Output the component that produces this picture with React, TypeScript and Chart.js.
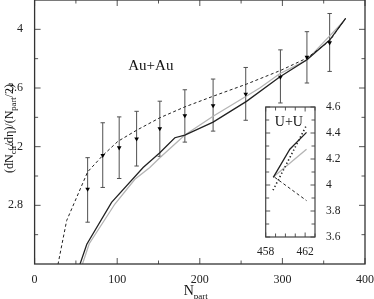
import React, { useEffect, useRef } from "react";
import { Chart, registerables } from "chart.js";
Chart.register(...registerables);

const FONT = "'Liberation Serif', 'Times New Roman', serif";

// ---- Main panel (Au+Au) ----
const expNpart = [64.2, 82.5, 102.4, 123.5, 151.6, 181.9, 216.1, 255.6, 297.6, 329.7, 357.2];
const expValue = [2.911, 3.141, 3.193, 3.254, 3.323, 3.412, 3.48, 3.559, 3.675, 3.81, 3.909];
const expHigh = [3.125, 3.363, 3.403, 3.441, 3.51, 3.588, 3.661, 3.74, 3.86, 3.984, 4.108];
const expLow = [2.685, 2.922, 2.983, 3.068, 3.134, 3.231, 3.306, 3.38, 3.498, 3.634, 3.713];

const dashedNpart = [27, 38.8, 64.2, 82.7, 100.8, 123.8, 151.6, 181.8, 215.7, 256.8, 297.9, 329.4, 357.2, 376.5];
const dashedValue = [2.36, 2.696, 3.028, 3.141, 3.236, 3.313, 3.397, 3.471, 3.543, 3.627, 3.72, 3.803, 3.921, 4.075];

const solidNpart = [52, 63.2, 93.2, 131.4, 151.6, 169.8, 181.9, 216.1, 256.5, 296.7, 329.7, 357.2, 376.5];
const solidValue = [2.35, 2.535, 2.82, 3.058, 3.159, 3.261, 3.279, 3.367, 3.509, 3.675, 3.792, 3.927, 4.075];

const grayNpart = [55, 66.1, 97.2, 121.4, 139.5, 151.6, 181.9, 216.1, 272.6, 296.7, 329.4, 375.3];
const grayValue = [2.35, 2.538, 2.809, 2.978, 3.058, 3.125, 3.28, 3.407, 3.6, 3.697, 3.79, 4.063];

const xMajorTicks = [0, 100, 200, 300, 400];
const xMinorTicks = [50, 150, 250, 350];
const yMajorTicks = [2.8, 3.2, 3.6, 4.0];
const yMinorTicks = [2.6, 3.0, 3.4, 3.8];

// ---- Inset (U+U) ----
const uuSolidNpart = [458.77, 460.45, 462.14];
const uuSolidValue = [4.059, 4.275, 4.405];
const uuDottedNpart = [458.74, 462.14];
const uuDottedValue = [3.96, 4.46];
const uuGrayNpart = [458.74, 462.14];
const uuGrayValue = [4.06, 4.275];
const uuDashedNpart = [458.9, 462.14];
const uuDashedValue = [4.06, 3.88];

const insetXMajor = [458, 462];
const insetXMinor = [459, 460, 461, 463];
const insetYMajor = [3.6, 3.8, 4.0, 4.2, 4.4, 4.6];
const insetYMinor = [3.7, 3.9, 4.1, 4.3, 4.5];

const pts = (xs: number[], ys: number[]) => xs.map((x, i) => ({ x, y: ys[i] }));
const fmt = (v: any) => String(+Number(v).toFixed(2));
const noPad = (s: any) => { s.paddingTop = 0; s.paddingBottom = 0; s.paddingLeft = 0; s.paddingRight = 0; };

const framePlugin = {
  id: "frame",
  beforeDraw(chart: any, _a: any, opts: any) {
    if (!opts.fill) return;
    const { ctx, chartArea: ca } = chart;
    ctx.save();
    ctx.fillStyle = opts.fill;
    ctx.fillRect(ca.left, ca.top, ca.right - ca.left, ca.bottom - ca.top);
    ctx.restore();
  },
  afterDraw(chart: any, _a: any, opts: any) {
    const { ctx, chartArea: ca, scales } = chart;
    const x = scales.x, y = scales.y;
    ctx.save();
    ctx.strokeStyle = opts.tickColor;
    ctx.lineWidth = opts.tickWidth;
    const dx = (v: number, len: number) => {
      const p = x.getPixelForValue(v);
      ctx.beginPath();
      ctx.moveTo(p, ca.bottom); ctx.lineTo(p, ca.bottom - len);
      ctx.moveTo(p, ca.top); ctx.lineTo(p, ca.top + len);
      ctx.stroke();
    };
    const dy = (v: number, len: number) => {
      const p = y.getPixelForValue(v);
      ctx.beginPath();
      ctx.moveTo(ca.left, p); ctx.lineTo(ca.left + len, p);
      ctx.moveTo(ca.right, p); ctx.lineTo(ca.right - len, p);
      ctx.stroke();
    };
    opts.xMajor.forEach((v: number) => dx(v, opts.major));
    opts.xMinor.forEach((v: number) => dx(v, opts.minor));
    opts.yMajor.forEach((v: number) => dy(v, opts.major));
    opts.yMinor.forEach((v: number) => dy(v, opts.minor));
    ctx.strokeStyle = opts.color;
    ctx.lineWidth = opts.lineWidth;
    ctx.strokeRect(ca.left, ca.top, ca.right - ca.left, ca.bottom - ca.top);
    ctx.restore();
  },
};

const errorBarPlugin = {
  id: "errbars",
  beforeDatasetsDraw(chart: any, _a: any, opts: any) {
    if (!opts.xs) return;
    const { ctx, scales } = chart;
    ctx.save();
    ctx.strokeStyle = opts.color;
    ctx.lineWidth = 1;
    opts.xs.forEach((xv: number, i: number) => {
      const px = scales.x.getPixelForValue(xv);
      const hi = scales.y.getPixelForValue(opts.high[i]);
      const lo = scales.y.getPixelForValue(opts.low[i]);
      ctx.beginPath();
      ctx.moveTo(px, hi); ctx.lineTo(px, lo);
      ctx.moveTo(px - opts.cap, hi); ctx.lineTo(px + opts.cap, hi);
      ctx.moveTo(px - opts.cap, lo); ctx.lineTo(px + opts.cap, lo);
      ctx.stroke();
    });
    ctx.restore();
  },
};

type Seg = { t: string; sub?: boolean };
const drawSegs = (ctx: any, segs: Seg[], size: number, subSize: number) => {
  const widths = segs.map((s) => {
    ctx.font = `${s.sub ? subSize : size}px ${FONT}`;
    return ctx.measureText(s.t).width;
  });
  const total = widths.reduce((a, b) => a + b, 0);
  let cx = -total / 2;
  segs.forEach((s, i) => {
    ctx.font = `${s.sub ? subSize : size}px ${FONT}`;
    ctx.fillText(s.t, cx, s.sub ? size * 0.27 : 0);
    cx += widths[i];
  });
};

const labelsPlugin = {
  id: "labels",
  afterDraw(chart: any, _a: any, opts: any) {
    const { ctx, chartArea: ca, scales } = chart;
    ctx.save();
    ctx.fillStyle = "#111";
    ctx.textBaseline = "alphabetic";
    ctx.textAlign = "left";
    (opts.texts || []).forEach((t: any) => {
      ctx.save();
      ctx.translate(scales.x.getPixelForValue(t.x), scales.y.getPixelForValue(t.y));
      drawSegs(ctx, [{ t: t.text }], t.size, t.size);
      ctx.restore();
    });
    if (opts.xTitle) {
      ctx.save();
      ctx.translate((ca.left + ca.right) / 2 + opts.xTitle.dx, ca.bottom + opts.xTitle.dy);
      drawSegs(ctx, opts.xTitle.segs, opts.xTitle.size, opts.xTitle.subSize);
      ctx.restore();
    }
    if (opts.yTitle) {
      ctx.save();
      ctx.translate(opts.yTitle.x, (ca.top + ca.bottom) / 2 + opts.yTitle.dy);
      ctx.rotate(-Math.PI / 2);
      drawSegs(ctx, opts.yTitle.segs, opts.yTitle.size, opts.yTitle.subSize);
      ctx.restore();
    }
    ctx.restore();
  },
};

function MainChart() {
  const ref = useRef<HTMLCanvasElement>(null);
  useEffect(() => {
    const chart = new Chart(ref.current!, {
      type: "scatter",
      data: {
        datasets: [
          {
            data: pts(expNpart, expValue),
            pointStyle: "triangle",
            rotation: 180,
            pointRadius: 2.7,
            backgroundColor: "#000",
            borderColor: "#000",
            borderWidth: 0,
            showLine: false,
          } as any,
          {
            data: pts(dashedNpart, dashedValue),
            showLine: true,
            borderColor: "#222",
            borderWidth: 1,
            borderDash: [3, 2.5],
            pointRadius: 0,
          },
          {
            data: pts(solidNpart, solidValue),
            showLine: true,
            borderColor: "#222",
            borderWidth: 1.3,
            pointRadius: 0,
          },
          {
            data: pts(grayNpart, grayValue),
            showLine: true,
            borderColor: "#b4b4b4",
            borderWidth: 1.3,
            pointRadius: 0,
          },
        ],
      },
      options: {
        animation: false,
        responsive: false,
        events: [],
        layout: { autoPadding: false, padding: { left: 0, right: 9, top: 0, bottom: 0 } },
        scales: {
          x: {
            type: "linear",
            min: 0,
            max: 400,
            grid: { display: false },
            border: { display: false },
            afterBuildTicks: (s: any) => { s.ticks = xMajorTicks.map((value) => ({ value })); },
            afterFit: (s: any) => { s.height = 35; noPad(s); },
            ticks: { font: { family: FONT, size: 12 }, color: "#222", padding: 1, maxRotation: 0, callback: fmt },
          },
          y: {
            type: "linear",
            min: 2.4,
            max: 4.2,
            grid: { display: false },
            border: { display: false },
            afterBuildTicks: (s: any) => { s.ticks = yMajorTicks.map((value) => ({ value })); },
            afterFit: (s: any) => { s.width = 34.6; noPad(s); },
            ticks: { font: { family: FONT, size: 12 }, color: "#222", padding: 3.5, callback: fmt },
          },
        },
        plugins: {
          legend: { display: false },
          tooltip: { enabled: false },
          frame: {
            color: "#333", lineWidth: 1.3, tickColor: "#555", tickWidth: 1,
            major: 6, minor: 3.5,
            xMajor: xMajorTicks, xMinor: xMinorTicks, yMajor: yMajorTicks, yMinor: yMinorTicks,
          },
          errbars: { xs: expNpart, high: expHigh, low: expLow, color: "#505050", cap: 2.2 },
          labels: {
            texts: [{ text: "Au+Au", x: 140.7, y: 3.72, size: 15 }],
            xTitle: { segs: [{ t: "N" }, { t: "part", sub: true }], size: 14, subSize: 9, dx: -4, dy: 31 },
            yTitle: {
              segs: [
                { t: "(dN" }, { t: "ch", sub: true }, { t: "/dη)/(N" }, { t: "part", sub: true }, { t: "/2)" },
              ],
              size: 12, subSize: 8.5, x: 13, dy: -3.5,
            },
          },
        } as any,
      },
      plugins: [framePlugin, errorBarPlugin, labelsPlugin],
    });
    return () => chart.destroy();
  }, []);
  return <canvas ref={ref} width={374} height={299} style={{ position: "absolute", left: 0, top: 0 }} />;
}

function InsetChart() {
  const ref = useRef<HTMLCanvasElement>(null);
  useEffect(() => {
    const chart = new Chart(ref.current!, {
      type: "scatter",
      data: {
        datasets: [
          { data: pts(uuSolidNpart, uuSolidValue), showLine: true, borderColor: "#222", borderWidth: 1.3, pointRadius: 0 },
          { data: pts(uuDottedNpart, uuDottedValue), showLine: true, borderColor: "#222", borderWidth: 1.6, borderDash: [1.3, 2.4], pointRadius: 0 },
          { data: pts(uuDashedNpart, uuDashedValue), showLine: true, borderColor: "#222", borderWidth: 1, borderDash: [3, 2.5], pointRadius: 0 },
          { data: pts(uuGrayNpart, uuGrayValue), showLine: true, borderColor: "#b4b4b4", borderWidth: 1.3, pointRadius: 0 },
        ],
      },
      options: {
        animation: false,
        responsive: false,
        events: [],
        layout: { autoPadding: false, padding: { left: 15.7, right: 0, top: 11, bottom: 0 } },
        scales: {
          x: {
            type: "linear",
            min: 458,
            max: 463,
            grid: { display: false },
            border: { display: false },
            afterBuildTicks: (s: any) => { s.ticks = insetXMajor.map((value) => ({ value })); },
            afterFit: (s: any) => { s.height = 19; noPad(s); },
            ticks: { font: { family: FONT, size: 11.5 }, color: "#222", padding: 0, maxRotation: 0, callback: fmt },
          },
          y: {
            type: "linear",
            position: "right",
            min: 3.6,
            max: 4.6,
            grid: { display: false },
            border: { display: false },
            afterBuildTicks: (s: any) => { s.ticks = insetYMajor.map((value) => ({ value })); },
            afterFit: (s: any) => { s.width = 30; noPad(s); },
            ticks: { font: { family: FONT, size: 11.5 }, color: "#222", padding: 3, callback: fmt },
          },
        },
        plugins: {
          legend: { display: false },
          tooltip: { enabled: false },
          frame: {
            fill: "#fff", color: "#444", lineWidth: 1.2, tickColor: "#555", tickWidth: 1,
            major: 4.5, minor: 3.5,
            xMajor: insetXMajor, xMinor: insetXMinor, yMajor: insetYMajor, yMinor: insetYMinor,
          },
          labels: { texts: [{ text: "U+U", x: 460.35, y: 4.455, size: 14 }] },
        } as any,
      },
      plugins: [framePlugin, labelsPlugin],
    });
    return () => chart.destroy();
  }, []);
  return <canvas ref={ref} width={95} height={160} style={{ position: "absolute", left: 250, top: 96 }} />;
}

export default function App() {
  return (
    <div style={{ position: "fixed", left: 0, top: 0, width: 374, height: 299, background: "#fff", overflow: "hidden" }}>
      <MainChart />
      <InsetChart />
    </div>
  );
}
